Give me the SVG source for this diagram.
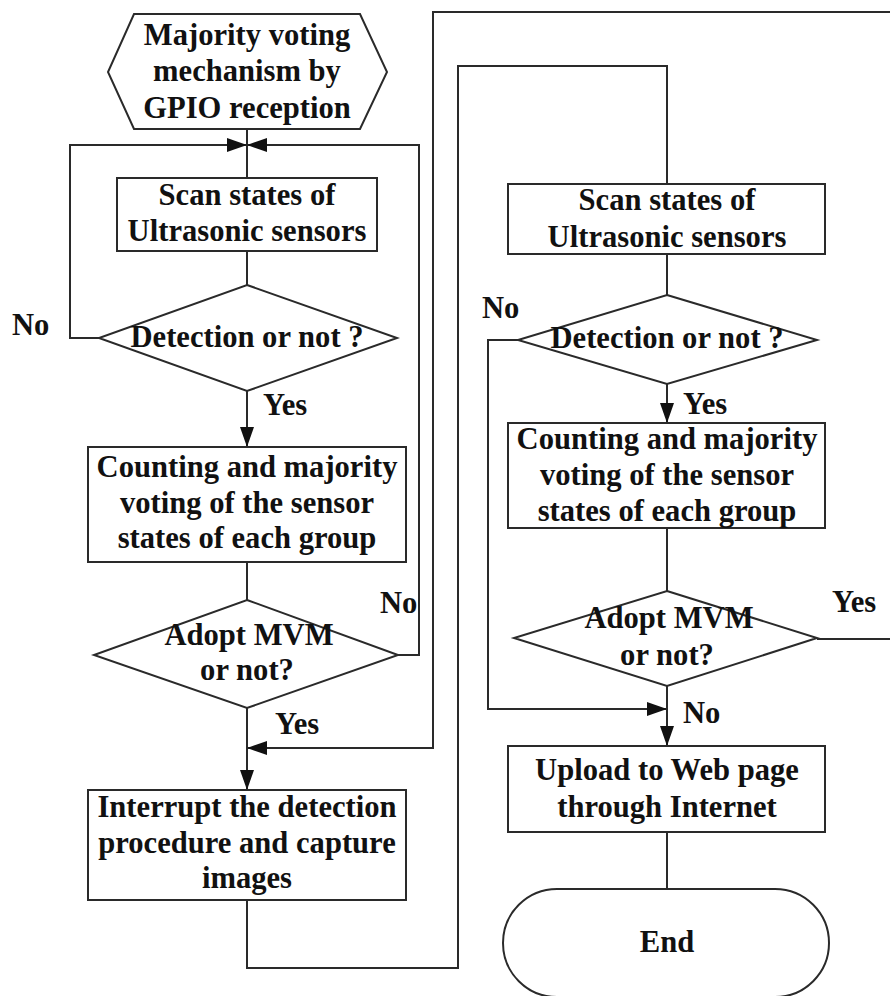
<svg xmlns="http://www.w3.org/2000/svg" width="890" height="996" viewBox="0 0 890 996">
  <style>
    .shape { fill: #fff; stroke: #2a2a2a; stroke-width: 2; }
    .wire { fill: none; stroke: #2a2a2a; stroke-width: 2; }
    text { font-family: "Liberation Serif", "Times New Roman", serif; font-weight: bold; font-size: 30.6px; fill: #111; }
    .c { text-anchor: middle; }
  </style>
  <defs>
    <marker id="arrow" markerUnits="userSpaceOnUse" markerWidth="20" markerHeight="14" refX="20" refY="7" orient="auto">
      <path d="M0,0 L20,7 L0,14 z" fill="#111"/>
    </marker>
  </defs>
  <rect width="890" height="996" fill="#fff"/>

  <!-- connectors -->
  <g id="connectors">
    <line class="wire" x1="247" y1="129" x2="247" y2="178"/>
    <path class="wire" d="M99,338 H70 V145 H247" marker-end="url(#arrow)"/>
    <path class="wire" d="M398,655 H419 V145 H247" marker-end="url(#arrow)"/>
    <line class="wire" x1="247" y1="251" x2="247" y2="285"/>
    <line class="wire" x1="247" y1="391" x2="247" y2="447" marker-end="url(#arrow)"/>
    <line class="wire" x1="247" y1="562" x2="247" y2="600"/>
    <line class="wire" x1="247" y1="708" x2="247" y2="790" marker-end="url(#arrow)"/>
    <path class="wire" d="M817,639 H893 V12 H433 V748 H247" marker-end="url(#arrow)"/>
    <path class="wire" d="M247,900 V968 H458 V66 H667 V184"/>
    <line class="wire" x1="667" y1="254" x2="667" y2="295"/>
    <path class="wire" d="M518,340 H488 V709 H667" marker-end="url(#arrow)"/>
    <line class="wire" x1="667" y1="384" x2="667" y2="423" marker-end="url(#arrow)"/>
    <line class="wire" x1="667" y1="528" x2="667" y2="591"/>
    <line class="wire" x1="667" y1="686" x2="667" y2="746" marker-end="url(#arrow)"/>
    <line class="wire" x1="667" y1="832" x2="667" y2="889"/>
    <!-- branch labels -->
    <text x="12" y="335">No</text>
    <text x="263" y="415">Yes</text>
    <text x="380" y="613">No</text>
    <text x="275" y="734">Yes</text>
    <text x="482" y="318">No</text>
    <text x="683" y="414">Yes</text>
    <text x="832" y="612">Yes</text>
    <text x="683" y="723">No</text>
  </g>

  <!-- left column -->
  <g id="start">
    <polygon class="shape" points="134,14 360,14 387,72 360,129 134,129 108,72"/>
    <text class="c" x="247" y="45">Majority voting</text>
    <text class="c" x="247" y="81">mechanism by</text>
    <text class="c" x="247" y="118">GPIO reception</text>
  </g>
  <g id="scan1">
    <rect class="shape" x="117" y="178" width="260" height="73"/>
    <text class="c" x="247" y="205">Scan states of</text>
    <text class="c" x="247" y="241">Ultrasonic sensors</text>
  </g>
  <g id="detect1">
    <polygon class="shape" points="247,285 397,338 247,391 99,338"/>
    <text class="c" x="247" y="347">Detection or not ?</text>
  </g>
  <g id="count1">
    <rect class="shape" x="88" y="447" width="318" height="115"/>
    <text class="c" x="247" y="477">Counting and majority</text>
    <text class="c" x="247" y="513">voting of the sensor</text>
    <text class="c" x="247" y="548">states of each group</text>
  </g>
  <g id="adopt1">
    <polygon class="shape" points="247,600 398,655 247,708 94,655"/>
    <text class="c" x="249" y="645">Adopt MVM</text>
    <text class="c" x="247" y="680">or not?</text>
  </g>
  <g id="interrupt">
    <rect class="shape" x="88" y="790" width="318" height="110"/>
    <text class="c" x="247" y="817">Interrupt the detection</text>
    <text class="c" x="247" y="853">procedure and capture</text>
    <text class="c" x="247" y="888">images</text>
  </g>

  <!-- right column -->
  <g id="scan2">
    <rect class="shape" x="508" y="184" width="317" height="70"/>
    <text class="c" x="667" y="210">Scan states of</text>
    <text class="c" x="667" y="247">Ultrasonic sensors</text>
  </g>
  <g id="detect2">
    <polygon class="shape" points="667,295 817,340 667,384 518,340"/>
    <text class="c" x="667" y="348">Detection or not ?</text>
  </g>
  <g id="count2">
    <rect class="shape" x="508" y="423" width="317" height="105"/>
    <text class="c" x="667" y="449">Counting and majority</text>
    <text class="c" x="667" y="485">voting of the sensor</text>
    <text class="c" x="667" y="521">states of each group</text>
  </g>
  <g id="adopt2">
    <polygon class="shape" points="667,591 817,638 667,686 514,638"/>
    <text class="c" x="669" y="628">Adopt MVM</text>
    <text class="c" x="667" y="665">or not?</text>
  </g>
  <g id="upload">
    <rect class="shape" x="508" y="746" width="317" height="86"/>
    <text class="c" x="667" y="780">Upload to Web page</text>
    <text class="c" x="667" y="817">through Internet</text>
  </g>
  <g id="end">
    <rect class="shape" x="503" y="889" width="326" height="108" rx="54" ry="54"/>
    <text class="c" x="667" y="952">End</text>
  </g>
</svg>
